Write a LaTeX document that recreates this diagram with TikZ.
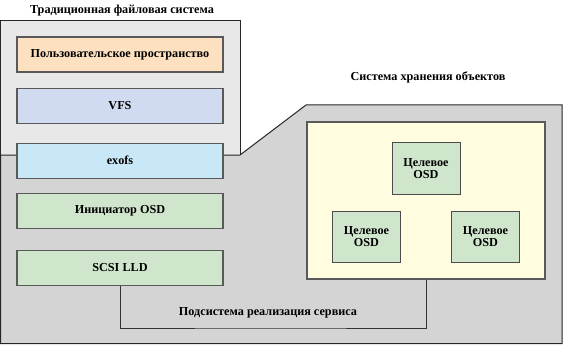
\documentclass[tikz,border=0pt]{standalone}
\usepackage{fontspec}
\setmainfont{Liberation Serif}[BoldFont={Liberation Serif Bold}]
\usetikzlibrary{positioning}

\definecolor{tradgray}{RGB}{232,232,232}
\definecolor{osdgray}{RGB}{212,212,212}
\definecolor{userfill}{RGB}{252,224,192}
\definecolor{vfsfill}{RGB}{208,218,240}
\definecolor{exofsfill}{RGB}{200,232,248}
\definecolor{osdfill}{RGB}{208,230,204}
\definecolor{storefill}{RGB}{255,252,224}

\newcommand{\diagfont}{\fontsize{12.2}{12.5}\selectfont\bfseries}

\tikzset{
    region/.style={draw=black!85, line width=1pt},
    layerbox/.style={rectangle, draw=black!65, line width=1.1pt, minimum width=206pt, minimum height=35pt, inner sep=0pt, font=\diagfont},
    osdbox/.style={rectangle, draw=black!70, line width=1pt, fill=osdfill, minimum width=68pt, minimum height=51pt, inner sep=0pt, align=center, font=\diagfont},
    storebox/.style={rectangle, draw=black!65, line width=1.1pt, fill=storefill, minimum width=238pt, minimum height=157pt, inner sep=0pt},
    caption/.style={inner sep=0pt, font=\diagfont},
    link/.style={draw=black!80, line width=1pt},
}

\begin{document}
\begin{tikzpicture}[x=1pt,y=1pt]
\useasboundingbox (0,0) rectangle (563,-345);

% Regions
\draw[region,fill=tradgray] (0.5,-21) rectangle (240,-155);
\draw[region,fill=osdgray] (0.5,-155) -- (240,-155) -- (306,-105) -- (562,-105) -- (562,-343.5) -- (0.5,-343.5) -- cycle;
\node[caption] (tradtitle) at (122,-11) {Традиционная файловая система};
\node[caption] (osdtitle) at (428,-77) {Система хранения объектов};

% Left stack
\node[layerbox,fill=userfill] (user) at (120,-54.5) {Пользовательское пространство};
\node[layerbox,fill=vfsfill,below=15pt of user] (vfs) {VFS};
\node[layerbox,fill=exofsfill,below=19pt of vfs] (exofs) {exofs};
\node[layerbox,fill=osdfill,below=14pt of exofs] (init) {Инициатор OSD};
\node[layerbox,fill=osdfill,below=21pt of init] (scsi) {SCSI LLD};

% Object storage
\node[storebox] (store) at (426,-200.5) {};
\node[osdbox] (osdtop) at (426,-168.5) {Целевое\\OSD};
\node[osdbox] (osdleft) at (366.5,-236.5) {Целевое\\OSD};
\node[osdbox] (osdright) at (485.5,-236.5) {Целевое\\OSD};

% Service link
\node[caption] (svc) at (268,-313) {Подсистема реализация сервиса};
\coordinate (svcline) at (268,-328);
\draw[link] (scsi.south) |- (svcline) -| (store.south);
\end{tikzpicture}
\end{document}
